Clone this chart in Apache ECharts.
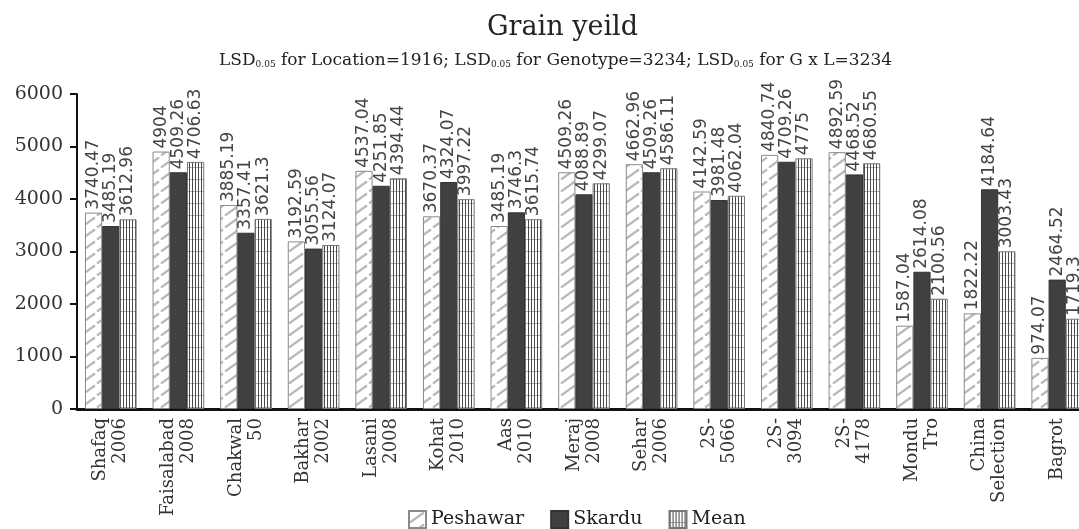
<!DOCTYPE html>
<html>
<head>
<meta charset="utf-8">
<title>Grain yeild</title>
<script src="https://cdn.jsdelivr.net/npm/echarts@6/dist/echarts.min.js"></script>
<style>
  html, body { margin: 0; padding: 0; background: #fff; }
  #chart { width: 1079px; height: 529px; }
</style>
</head>
<body>
<div id="chart"></div>
<script>
// genotypes (x axis)
const categories = [
  "Shafaq\n2006", "Faisalabad\n2008", "Chakwal\n50", "Bakhar\n2002", "Lasani\n2008",
  "Kohat\n2010", "Aas\n2010", "Meraj\n2008", "Sehar\n2006", "2S-\n5066",
  "2S-\n3094", "2S-\n4178", "Mondu\nTro", "China\nSelection", "Bagrot"
];
// grain yield per location
const peshawar = [3740.47, 4904, 3885.19, 3192.59, 4537.04, 3670.37, 3485.19, 4509.26, 4662.96, 4142.59, 4840.74, 4892.59, 1587.04, 1822.22, 974.07];
const skardu = [3485.19, 4509.26, 3357.41, 3055.56, 4251.85, 4324.07, 3746.3, 4088.89, 4509.26, 3981.48, 4709.26, 4468.52, 2614.08, 4184.64, 2464.52];
const mean = [3612.96, 4706.63, 3621.3, 3124.07, 4394.44, 3997.22, 3615.74, 4299.07, 4586.11, 4062.04, 4775, 4680.55, 2100.56, 3003.43, 1719.3];
const yTicks = [0, 1000, 2000, 3000, 4000, 5000, 6000];

// pattern fills (hatched / vertical lines)
function makeHatch() {
  const c = document.createElement("canvas");
  c.width = 16; c.height = 12;
  const ctx = c.getContext("2d");
  ctx.fillStyle = "#fff";
  ctx.fillRect(0, 0, 16, 12);
  ctx.strokeStyle = "#b8b8b8";
  ctx.lineWidth = 2.2;
  ctx.beginPath();
  ctx.moveTo(1, 11.5);
  ctx.lineTo(15, 1.5);
  ctx.stroke();
  return c;
}
function makeVLines() {
  const c = document.createElement("canvas");
  c.width = 3; c.height = 12;
  const ctx = c.getContext("2d");
  ctx.fillStyle = "#fff";
  ctx.fillRect(0, 0, 3, 12);
  ctx.fillStyle = "#4a4a4a";
  ctx.fillRect(0, 0, 1, 12);
  ctx.fillStyle = "#b0b0b0";
  ctx.fillRect(1, 11, 2, 1);
  return c;
}

const labelStyle = {
  show: true,
  position: "top",
  rotate: 90,
  align: "left",
  verticalAlign: "middle",
  distance: 3,
  fontFamily: "DejaVu Sans",
  fontSize: 17,
  color: "#444"
};

const chart = echarts.init(document.getElementById("chart"));
chart.setOption({
  animation: false,
  backgroundColor: "#fff",
  title: [
    {
      text: "Grain yeild",
      left: 482,
      top: 9,
      textStyle: { fontFamily: "DejaVu Serif", fontSize: 27, fontWeight: "normal", color: "#222" }
    },
    {
      text: "LSD{s|0.05} for Location=1916; LSD{s|0.05} for Genotype=3234; LSD{s|0.05} for G x L=3234",
      left: 214,
      top: 47,
      textStyle: {
        fontFamily: "DejaVu Serif", fontSize: 17, fontWeight: "normal", color: "#222",
        rich: {
          s: { fontFamily: "DejaVu Serif", fontSize: 9, color: "#222", padding: [8, 0, 0, 0] }
        }
      }
    }
  ],
  legend: {
    left: 403,
    top: 505,
    itemWidth: 17,
    itemHeight: 17,
    itemGap: 26,
    icon: "rect",
    textStyle: { fontFamily: "DejaVu Serif", fontSize: 19, color: "#222" },
    data: ["Peshawar", "Skardu", "Mean"]
  },
  grid: { left: 77, top: 94, width: 1014, height: 315, outerBoundsMode: "none" },
  xAxis: {
    type: "category",
    data: categories,
    axisLine: { lineStyle: { color: "#111", width: 3 } },
    axisTick: { show: false },
    axisLabel: {
      interval: 0,
      rotate: 90,
      margin: 9,
      fontFamily: "DejaVu Serif",
      fontSize: 18,
      lineHeight: 20,
      color: "#333"
    }
  },
  yAxis: {
    type: "value",
    min: yTicks[0],
    max: yTicks[yTicks.length - 1],
    interval: 1000,
    splitLine: { show: false },
    axisLine: { show: true, lineStyle: { color: "#111", width: 2 } },
    axisTick: { show: true, length: 7, lineStyle: { color: "#111", width: 2 } },
    axisLabel: {
      fontFamily: "DejaVu Serif", fontSize: 19, color: "#333", margin: 14,
      formatter: (v) => String(v)
    }
  },
  series: [
    {
      name: "Peshawar",
      type: "bar",
      data: peshawar,
      barGap: "0%",
      barCategoryGap: "23.6%",
      itemStyle: { color: { image: makeHatch(), repeat: "repeat" }, borderColor: "#8a8a8a", borderWidth: 1 },
      label: labelStyle
    },
    {
      name: "Skardu",
      type: "bar",
      data: skardu,
      itemStyle: { color: "#404040", borderColor: "#333", borderWidth: 1 },
      label: labelStyle
    },
    {
      name: "Mean",
      type: "bar",
      data: mean,
      itemStyle: { color: { image: makeVLines(), repeat: "repeat" }, borderColor: "#777", borderWidth: 1 },
      label: labelStyle
    }
  ]
});
</script>
</body>
</html>
